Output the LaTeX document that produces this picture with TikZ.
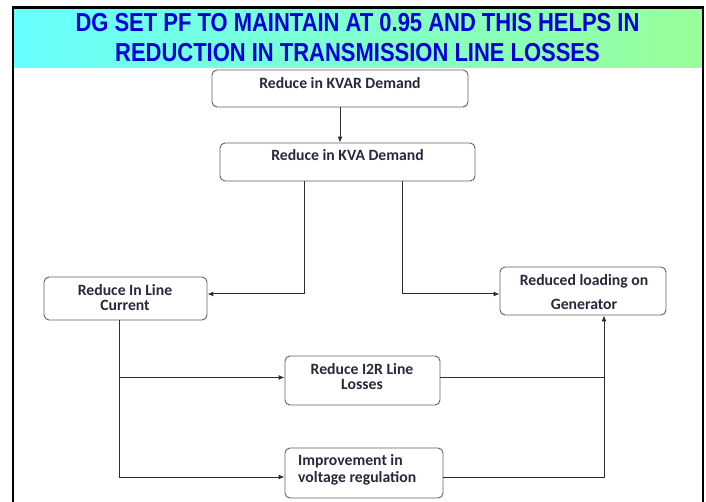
\documentclass[tikz,border=0pt]{standalone}
\usepackage{fontspec}
\setmainfont{Carlito}
\newfontfamily\titlefont[FakeStretch=0.845]{Liberation Sans}
\usetikzlibrary{arrows.meta}
\definecolor{banL}{RGB}{102,255,255}
\definecolor{banR}{RGB}{153,255,153}
\definecolor{titleblue}{RGB}{0,0,215}
\definecolor{boxline}{RGB}{95,95,95}
\definecolor{txtc}{RGB}{40,40,60}
\definecolor{conn}{RGB}{45,45,45}
\tikzset{
  box/.style={draw=boxline, line width=0.9pt, rounded corners=5pt, inner sep=0pt},
  lbl/.style={font=\fontsize{15.7}{#1}\selectfont\bfseries, text=txtc, inner sep=0pt},
  lbl/.default=16,
  ttl/.style={font=\titlefont\fontsize{26}{30}\selectfont\bfseries, text=titleblue, inner sep=0pt},
  conline/.style={draw=conn, line width=1pt},
  arr/.style={conline, -{Latex[length=6pt,width=5pt]}}
}
\begin{document}
\begin{tikzpicture}[x=1pt,y=-1pt]
\useasboundingbox (0,0) rectangle (706,502);
% banner
\shade[left color=banL, right color=banR] (14.5,8.5) rectangle (701.5,68);
\draw[black, line width=2.6pt] (13,502) -- (13,7.3) -- (703,7.3) -- (703,502);
\node[ttl] (t1) at (357.5,22.5) {DG SET PF TO MAINTAIN AT 0.95 AND THIS HELPS IN};
\node[ttl] (t2) at (357.5,52.5) {REDUCTION IN TRANSMISSION LINE LOSSES};
% boxes
\node[box, minimum width=256pt, minimum height=37pt] (kvar) at (340,88.5) {};
\node[box, minimum width=255pt, minimum height=38pt] (kva) at (347.5,162) {};
\node[box, minimum width=163pt, minimum height=43pt] (lc) at (125.5,298.5) {};
\node[box, minimum width=166pt, minimum height=48pt] (rl) at (583,291) {};
\node[box, minimum width=155pt, minimum height=49pt] (i2r) at (362.5,380.5) {};
\node[box, minimum width=158pt, minimum height=50pt] (vr) at (364,473) {};
% texts
\node[lbl] (kvart) at (340,83) {Reduce in KVAR Demand};
\node[lbl] (kvat) at (347.5,155) {Reduce in KVA Demand};
\node[lbl=14.5, align=center] (lct) at (125,297.5) {Reduce In Line\\Current};
\node[lbl=24, align=center] (rlt) at (584,292.5) {Reduced loading on\\Generator};
\node[lbl=15, align=center] (i2rt) at (362,376.5) {Reduce I2R Line\\Losses};
\node[lbl=16.5, align=left, anchor=west] (vrt) at (298,470) {Improvement in\\voltage regulation};
% connector columns
\coordinate (c1) at (304,0);
\coordinate (c2) at (402,0);
\coordinate (c3) at (119,0);
\coordinate (c4) at (604,0);
% connectors
\draw[arr] (kvar.south -| kvart) -- (kva.north -| kvart);
\draw[arr] (kva.south -| c1) |- ([yshift=4.5pt]lc.east);
\draw[arr] (kva.south -| c2) |- ([yshift=-3pt]rl.west);
\draw[arr] (lc.south -| c3) |- ([yshift=3pt]i2r.west);
\draw[arr] (lc.south -| c3) |- ([yshift=-4pt]vr.west);
\draw[conline] ([yshift=3pt]i2r.east) -- ([yshift=3pt]i2r.east -| c4);
\draw[arr] ([yshift=-4pt]vr.east) -| (rl.south -| c4);
\end{tikzpicture}
\end{document}
